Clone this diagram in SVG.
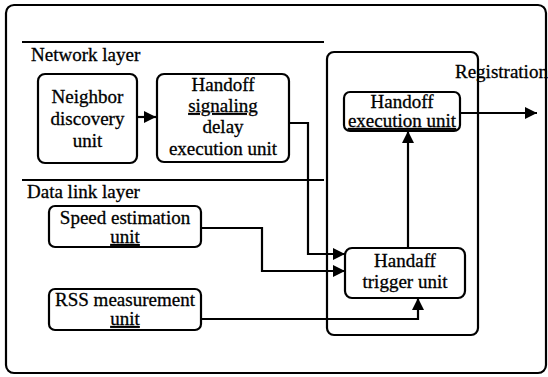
<svg xmlns="http://www.w3.org/2000/svg" width="548" height="377" viewBox="0 0 548 377">
<style>
.box{fill:#fff;stroke:#000;stroke-width:2.2}
.frame{fill:none;stroke:#000;stroke-width:2.2}
.ln{fill:none;stroke:#000;stroke-width:2.2}
.t{fill:#000;stroke:#000;stroke-width:0.3}
.c{text-anchor:middle}
.u{text-decoration:underline}
</style>
<defs>
<marker id="ah" markerUnits="userSpaceOnUse" markerWidth="13" markerHeight="13" refX="12" refY="6.5" orient="auto">
<path d="M0,0.5 L12,6.5 L0,12.5 z" fill="#000"/>
</marker>
</defs>
<rect class="frame" x="6" y="5" width="540" height="368" rx="8"/>
<line class="ln" x1="22" y1="42" x2="324" y2="42"/>
<line class="ln" x1="22" y1="180" x2="324" y2="180"/>
<g font-family="Liberation Serif, Times New Roman, serif" font-size="19">
<text class="t" x="31" y="61">Network layer</text>
<text class="t" x="27" y="198">Data link layer</text>
</g>
<g id="group-right">
<rect class="frame" x="327" y="52" width="151" height="283" rx="7"/>
</g>
<g id="connectors">
<line class="ln" x1="137" y1="117" x2="156" y2="117" marker-end="url(#ah)"/>
<polyline class="ln" points="289,123 308,123 308,254 345,254" marker-end="url(#ah)"/>
<polyline class="ln" points="201,228 262,228 262,271 345,271" marker-end="url(#ah)"/>
<polyline class="ln" points="201,319 418,319 418,298" marker-end="url(#ah)"/>
<line class="ln" x1="408" y1="248" x2="408" y2="131" marker-end="url(#ah)"/>
<line class="ln" x1="460" y1="113" x2="537" y2="113" marker-end="url(#ah)"/>
</g>
<g id="neighbor" font-family="Liberation Serif, Times New Roman, serif" font-size="19">
<rect class="box" x="38" y="74" width="99" height="89" rx="7"/>
<text class="t c" x="87.5" y="103">Neighbor</text>
<text class="t c" x="87.5" y="125">discovery</text>
<text class="t c" x="87.5" y="147">unit</text>
</g>
<g id="signaling" font-family="Liberation Serif, Times New Roman, serif" font-size="19">
<rect class="box" x="157" y="74" width="132" height="88" rx="7"/>
<text class="t c" x="223" y="91">Handoff</text>
<text class="t c u" x="223" y="112">signaling</text>
<text class="t c" x="223" y="133">delay</text>
<text class="t c" x="223" y="155">execution unit</text>
</g>
<g id="speed" font-family="Liberation Serif, Times New Roman, serif" font-size="19">
<rect class="box" x="49" y="206" width="152" height="41" rx="6"/>
<text class="t c" x="125" y="224">Speed estimation</text>
<text class="t c u" x="125" y="243">unit</text>
</g>
<g id="rss" font-family="Liberation Serif, Times New Roman, serif" font-size="19">
<rect class="box" x="49" y="289" width="152" height="41" rx="6"/>
<text class="t c" x="125" y="306">RSS measurement</text>
<text class="t c u" x="125" y="325">unit</text>
</g>
<g id="execution" font-family="Liberation Serif, Times New Roman, serif" font-size="19">
<rect class="box" x="344" y="92" width="116" height="39" rx="6"/>
<text class="t c" x="402" y="108">Handoff</text>
<text class="t c u" x="402" y="127">execution unit</text>
</g>
<g id="trigger" font-family="Liberation Serif, Times New Roman, serif" font-size="19">
<rect class="box" x="345" y="248" width="120" height="50" rx="7"/>
<text class="t c" x="405" y="267">Handaff</text>
<text class="t c" x="405" y="288">trigger unit</text>
</g>
<g font-family="Liberation Serif, Times New Roman, serif" font-size="19">
<text class="t" x="455" y="78">Registration</text>
</g>
</svg>
